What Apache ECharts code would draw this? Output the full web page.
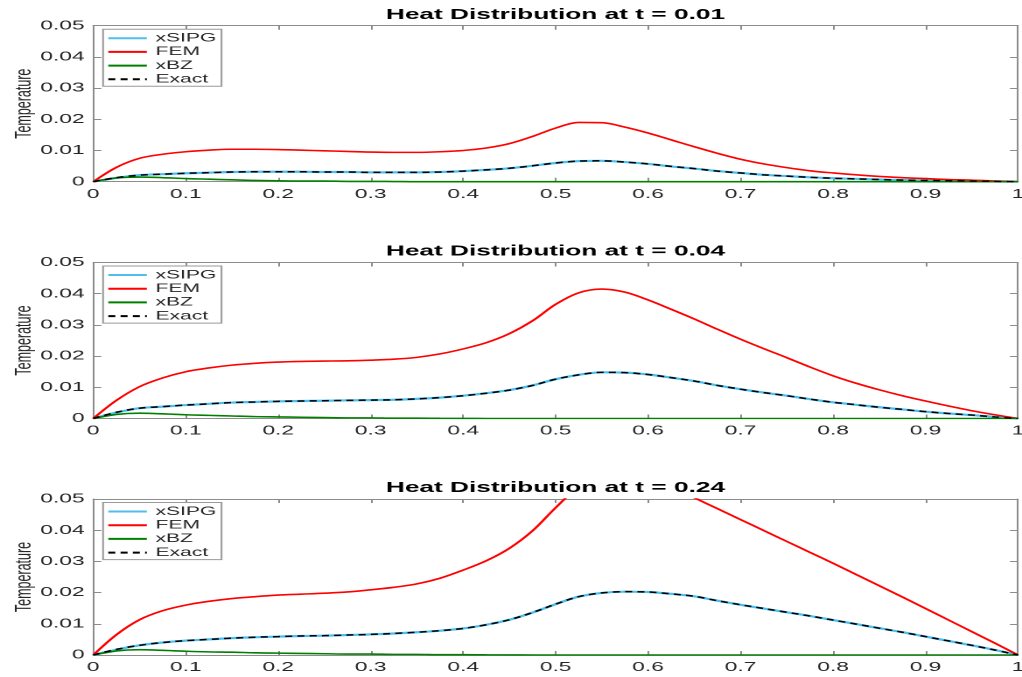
<!DOCTYPE html>
<html>
<head>
<meta charset="utf-8">
<script src="https://cdn.jsdelivr.net/npm/echarts/dist/echarts.min.js"></script>
<style>
  html, body { margin: 0; padding: 0; background: #fff; overflow: hidden; }
  /* figure is laid out at its native width and widened to the page */
  #chart { width: 584px; height: 677px; transform: scaleX(1.75); transform-origin: 0 0; }
</style>
</head>
<body>
<div id="chart"></div>
<script>
// sample positions along the rod, step 0.025
const xs = [0, 0.025, 0.05, 0.075, 0.1, 0.125, 0.15, 0.175, 0.2, 0.225,
            0.25, 0.275, 0.3, 0.325, 0.35, 0.375, 0.4, 0.425, 0.45, 0.475,
            0.5, 0.525, 0.55, 0.575, 0.6, 0.625, 0.65, 0.675, 0.7, 0.725,
            0.75, 0.775, 0.8, 0.825, 0.85, 0.875, 0.9, 0.925, 0.95, 0.975, 1];

const xTickLabels = ['0', '0.1', '0.2', '0.3', '0.4', '0.5', '0.6', '0.7', '0.8', '0.9', '1'];
const yTickLabels = ['0', '0.01', '0.02', '0.03', '0.04', '0.05'];
const times = ['0.01', '0.04', '0.24'];
const seriesNames = ['xSIPG', 'FEM', 'xBZ', 'Exact'];

// t = 0.01
const xsipg1 = [0, 0.0012, 0.0021, 0.0024, 0.0027, 0.0029, 0.0031, 0.0032, 0.0032, 0.0032,
                0.0031, 0.0031, 0.0030, 0.0030, 0.0030, 0.0031, 0.0034, 0.0038, 0.0043, 0.0051,
                0.0060, 0.0066, 0.0067, 0.0063, 0.0057, 0.0049, 0.0042, 0.0034, 0.0028, 0.0022,
                0.0018, 0.0014, 0.0011, 0.0009, 0.0007, 0.0005, 0.0004, 0.0003, 0.0002, 0.0001, 0];
const fem1   = [0, 0.0046, 0.0075, 0.0088, 0.0096, 0.0101, 0.0104, 0.0104, 0.0103, 0.0101,
                0.0099, 0.0097, 0.0095, 0.0094, 0.0094, 0.0096, 0.0100, 0.0108, 0.0122, 0.0145,
                0.0172, 0.0190, 0.0189, 0.0175, 0.0156, 0.0134, 0.0112, 0.0091, 0.0072, 0.0057,
                0.0045, 0.0035, 0.0028, 0.0022, 0.0017, 0.0013, 0.0010, 0.0007, 0.0005, 0.0002, 0];
const xbz1   = [0, 0.0012, 0.0015, 0.0013, 0.0010, 0.0008, 0.0006, 0.0004, 0.0003, 0.0002,
                0.0002, 0.0001, 0.0001, 0.00005, 0, 0, 0, 0, 0, 0,
                0, 0, 0, 0, 0, 0, 0, 0, 0, 0,
                0, 0, 0, 0, 0, 0, 0, 0, 0, 0, 0];
const exact1 = [0, 0.0013, 0.0021, 0.0024, 0.0027, 0.0029, 0.0031, 0.0032, 0.0032, 0.0032,
                0.0031, 0.0031, 0.0030, 0.0030, 0.0030, 0.0031, 0.0034, 0.0038, 0.0043, 0.0051,
                0.0060, 0.0066, 0.0067, 0.0063, 0.0057, 0.0049, 0.0042, 0.0034, 0.0028, 0.0022,
                0.0018, 0.0014, 0.0011, 0.0009, 0.0007, 0.0005, 0.0004, 0.0003, 0.0002, 0.0001, 0];

// t = 0.04
const xsipg2 = [0, 0.0019, 0.0033, 0.0038, 0.0043, 0.0047, 0.0051, 0.0053, 0.0055, 0.0056,
                0.0057, 0.0058, 0.0059, 0.0060, 0.0063, 0.0067, 0.0073, 0.0081, 0.0091, 0.0106,
                0.0126, 0.0140, 0.0148, 0.0147, 0.0141, 0.0131, 0.0120, 0.0106, 0.0094, 0.0083,
                0.0073, 0.0062, 0.0052, 0.0044, 0.0036, 0.0029, 0.0022, 0.0016, 0.0011, 0.0005, 0];
const fem2   = [0, 0.0058, 0.0102, 0.0130, 0.0150, 0.0162, 0.0171, 0.0177, 0.0181, 0.0183,
                0.0184, 0.0185, 0.0187, 0.0190, 0.0196, 0.0207, 0.0223, 0.0243, 0.0272, 0.0313,
                0.0366, 0.0403, 0.0415, 0.0405, 0.0380, 0.0350, 0.0319, 0.0286, 0.0254, 0.0224,
                0.0195, 0.0165, 0.0137, 0.0113, 0.0092, 0.0073, 0.0056, 0.0040, 0.0025, 0.0012, 0];
const xbz2   = [0, 0.0013, 0.0017, 0.0015, 0.0012, 0.0010, 0.0008, 0.0006, 0.0005, 0.0004,
                0.0003, 0.0002, 0.0002, 0.0001, 0.0001, 0.00005, 0.00003, 0, 0, 0,
                0, 0, 0, 0, 0, 0, 0, 0, 0, 0,
                0, 0, 0, 0, 0, 0, 0, 0, 0, 0, 0];
const exact2 = [0, 0.0020, 0.0033, 0.0038, 0.0043, 0.0047, 0.0051, 0.0053, 0.0055, 0.0056,
                0.0057, 0.0058, 0.0059, 0.0060, 0.0063, 0.0067, 0.0073, 0.0081, 0.0091, 0.0106,
                0.0126, 0.0140, 0.0148, 0.0147, 0.0141, 0.0131, 0.0120, 0.0106, 0.0094, 0.0083,
                0.0073, 0.0062, 0.0052, 0.0044, 0.0036, 0.0029, 0.0022, 0.0016, 0.0011, 0.0005, 0];

// t = 0.24
const xsipg3 = [0, 0.0017, 0.0031, 0.0040, 0.0046, 0.0050, 0.0054, 0.0057, 0.0059, 0.0061,
                0.0062, 0.0064, 0.0066, 0.0069, 0.0073, 0.0078, 0.0085, 0.0097, 0.0113, 0.0136,
                0.0163, 0.0187, 0.0199, 0.0203, 0.0202, 0.0196, 0.0188, 0.0174, 0.0161, 0.0149,
                0.0137, 0.0125, 0.0112, 0.0099, 0.0086, 0.0073, 0.0059, 0.0045, 0.0031, 0.0016, 0];
const fem3   = [0, 0.0065, 0.0113, 0.0142, 0.0160, 0.0172, 0.0181, 0.0187, 0.0192, 0.0195,
                0.0198, 0.0202, 0.0209, 0.0217, 0.0228, 0.0246, 0.0272, 0.0302, 0.0342, 0.0398,
                0.0472, 0.0538, 0.0570, 0.0578, 0.0568, 0.0540, 0.0504, 0.0469, 0.0434, 0.0399,
                0.0364, 0.0329, 0.0294, 0.0258, 0.0222, 0.0186, 0.0149, 0.0112, 0.0075, 0.0038, 0];
const xbz3   = [0, 0.0013, 0.0017, 0.0015, 0.0012, 0.0010, 0.0009, 0.0007, 0.0006, 0.0005,
                0.0004, 0.0003, 0.0003, 0.0002, 0.0002, 0.0001, 0.0001, 0.00005, 0.00003, 0,
                0, 0, 0, 0, 0, 0, 0, 0, 0, 0,
                0, 0, 0, 0, 0, 0, 0, 0, 0, 0, 0];
const exact3 = [0, 0.0018, 0.0031, 0.0040, 0.0046, 0.0050, 0.0054, 0.0057, 0.0059, 0.0061,
                0.0062, 0.0064, 0.0066, 0.0069, 0.0073, 0.0078, 0.0085, 0.0097, 0.0113, 0.0136,
                0.0163, 0.0187, 0.0199, 0.0203, 0.0202, 0.0196, 0.0188, 0.0174, 0.0161, 0.0149,
                0.0137, 0.0125, 0.0112, 0.0099, 0.0086, 0.0073, 0.0059, 0.0045, 0.0031, 0.0016, 0];

const panels = [
  [xsipg1, fem1, xbz1, exact1],
  [xsipg2, fem2, xbz2, exact2],
  [xsipg3, fem3, xbz3, exact3]
];

const FONT = '"Liberation Sans", Arial, Helvetica, sans-serif';
const AXIS_COLOR = '#8c8c8c';
const TEXT_COLOR = '#262626';
const gridTops = [25.7, 262.5, 499];
const gridHeight = 156;
const gridLeft = 53.3;
const gridRight = 2.3;

const colors = ['#4DBEEE', '#FF0000', '#008000', '#000000'];
const widths = [2.2, 1.6, 1.6, 1.5];

const pairs = (ys) => xs.map((x, i) => [x, ys[i]]);

const grids = [], xAxes = [], yAxes = [], series = [], legends = [], graphics = [];

panels.forEach((vals, p) => {
  grids.push({ left: gridLeft, right: gridRight, top: gridTops[p], height: gridHeight,
               outerBoundsMode: 'none', containLabel: false });

  const xBase = { type: 'value', gridIndex: p, min: 0, max: 1, interval: 0.1,
                  splitLine: { show: false },
                  axisLine: { show: true, onZero: false, lineStyle: { color: AXIS_COLOR, width: 1 } },
                  axisTick: { show: true, inside: true, length: 4, lineStyle: { color: AXIS_COLOR } } };
  xAxes.push(Object.assign({}, xBase, {
    position: 'bottom',
    axisLabel: { show: true, margin: 6, color: TEXT_COLOR, fontFamily: FONT, fontSize: 13,
                 formatter: v => xTickLabels[Math.round(v * 10)] }
  }));
  xAxes.push(Object.assign({}, xBase, { position: 'top', axisLabel: { show: false } }));

  const yBase = { type: 'value', gridIndex: p, min: 0, max: 0.05, interval: 0.01,
                  splitLine: { show: false },
                  axisLine: { show: true, onZero: false, lineStyle: { color: AXIS_COLOR, width: 1 } },
                  axisTick: { show: true, inside: true, length: 4.6, lineStyle: { color: AXIS_COLOR } } };
  yAxes.push(Object.assign({}, yBase, {
    position: 'left',
    name: 'Temperature', nameLocation: 'middle', nameGap: 33, nameMoveOverlap: false,
    nameTextStyle: { fontFamily: FONT, fontSize: 12.5, color: TEXT_COLOR },
    axisLabel: { show: true, margin: 5, color: TEXT_COLOR, fontFamily: FONT, fontSize: 13,
                 formatter: v => yTickLabels[Math.round(v * 100)] }
  }));
  yAxes.push(Object.assign({}, yBase, { position: 'right', axisLabel: { show: false } }));

  vals.forEach((ys, k) => {
    series.push({
      type: 'line', name: seriesNames[k],
      xAxisIndex: 2 * p, yAxisIndex: 2 * p,
      data: pairs(ys),
      symbol: 'none', smooth: 0.33, clip: true, animation: false,
      lineStyle: { color: colors[k], width: widths[k], type: k === 3 ? [4, 3] : 'solid' },
      itemStyle: { color: colors[k] },
      z: 2 + k
    });
  });

  legends.push({
    show: true, orient: 'vertical', left: 58.9, top: gridTops[p] + 3.5,
    data: seriesNames, itemWidth: 22, itemHeight: 12, itemGap: 1.7,
    padding: [3, 3, 1, 2],
    backgroundColor: '#ffffff', borderColor: '#9a9a9a', borderWidth: 1,
    itemStyle: { opacity: 0 },
    textStyle: { fontFamily: FONT, fontSize: 12, color: TEXT_COLOR },
    selectedMode: false
  });

  graphics.push({
    type: 'text', x: 317.4, y: gridTops[p] - 11, z: 100,
    style: { text: 'Heat Distribution at t = ' + times[p],
             font: 'bold 15px ' + FONT, fill: '#000',
             textAlign: 'center', textVerticalAlign: 'middle',
             align: 'center', verticalAlign: 'middle' }
  });
});

const chart = echarts.init(document.getElementById('chart'), null, { renderer: 'canvas', devicePixelRatio: 2 });
chart.setOption({
  animation: false,
  backgroundColor: '#ffffff',
  grid: grids, xAxis: xAxes, yAxis: yAxes,
  series: series, legend: legends, graphic: graphics
});
</script>
</body>
</html>
